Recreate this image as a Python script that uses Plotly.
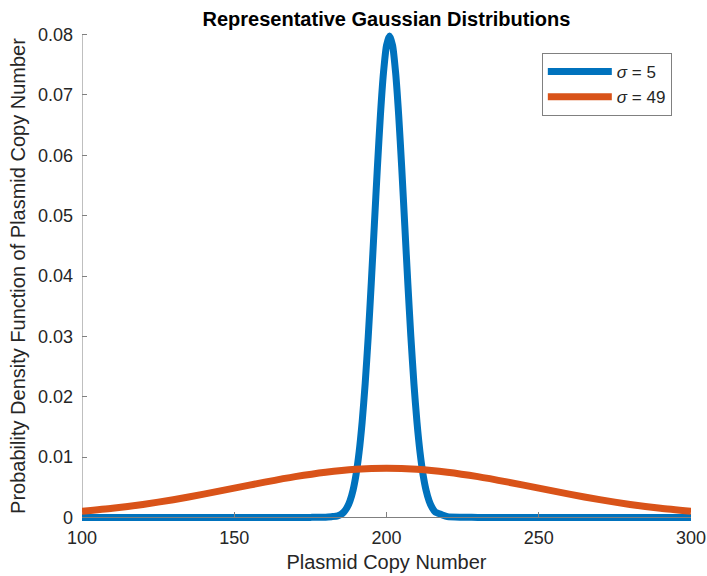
import plotly.graph_objects as go

# sigma = 5 curve
x_narrow = [100, 170, 175, 180, 182, 184, 185, 186, 187, 188, 189, 190, 191, 192, 193, 194, 195, 196, 197, 198, 199, 200,
            201, 202, 203, 204, 205, 206, 207, 208, 209, 210, 211, 212, 213, 214, 215, 216, 218, 220, 225, 230, 300]
y_narrow = [0.0, 0.0, 0.0, 0.00003, 0.00012, 0.00025, 0.00048, 0.00089, 0.00158, 0.00272, 0.00448, 0.00709,
            0.0108, 0.01579, 0.02218, 0.02995, 0.03884, 0.04839, 0.05794, 0.06665, 0.07365, 0.07821, 0.07979,
            0.07821, 0.07365, 0.06665, 0.05794, 0.04839, 0.03884, 0.02995, 0.02218, 0.01579, 0.0108,
            0.00709, 0.00448, 0.00272, 0.00158, 0.00089, 0.00048, 0.00012, 0.00003, 0.0, 0.0]

# sigma = 49 curve
x_wide = [100, 110, 120, 130, 140, 150, 160, 170, 180, 190, 200, 210, 220, 230, 240, 250, 260, 270, 280, 290, 300]
y_wide = [0.001015, 0.001507, 0.002147, 0.002934, 0.003847, 0.004838, 0.005835, 0.006751, 0.007491, 0.007974,
          0.008142, 0.007974, 0.007491, 0.006751, 0.005835, 0.004838, 0.003847, 0.002934, 0.002147, 0.001507, 0.001015]

names = ["<i>σ</i> = 5", "<i>σ</i> = 49"]
colors = ["#0072BD", "#D95319"]

title = "<b>Representative Gaussian Distributions</b>"
xlabel = "Plasmid Copy Number"
ylabel = "Probability Density Function of Plasmid Copy Number"
xticks = [100, 150, 200, 250, 300]
yticks = [0, 0.01, 0.02, 0.03, 0.04, 0.05, 0.06, 0.07, 0.08]

ymin, ymax = -0.0006, 0.0806

fig = go.Figure()
fig.add_trace(go.Scatter(x=x_narrow, y=y_narrow, mode="lines", name=names[0],
                         line=dict(color=colors[0], width=7, shape="spline", smoothing=0.6)))
fig.add_trace(go.Scatter(x=x_wide, y=y_wide, mode="lines", name=names[1],
                         line=dict(color=colors[1], width=7, shape="spline", smoothing=0.6)))

axis_gray = "#808080"
fig.update_layout(
    width=707, height=576,
    margin=dict(l=82, r=16, t=31, b=55, autoexpand=False),
    paper_bgcolor="white", plot_bgcolor="white",
    font=dict(family="Liberation Sans, Arial, sans-serif", size=18, color="#262626"),
    title=dict(text=title, x=(82 + 691) / 2 / 707, xanchor="center", y=1 - 19 / 576, yanchor="middle",
               font=dict(size=20, color="black")),
    showlegend=True,
    legend=dict(x=0.9685, xanchor="right", y=0.955, yanchor="top",
                bgcolor="white", bordercolor=axis_gray, borderwidth=1, itemwidth=64,
                font=dict(size=17, color="#262626"), tracegroupgap=0),
    xaxis=dict(range=[100, 300], tickvals=xticks, showgrid=False, zeroline=False,
               showline=True, linecolor=axis_gray, linewidth=1, automargin=False,
               ticks="inside", ticklen=5, tickcolor=axis_gray, ticklabelstandoff=4,
               ticklabeloverflow="allow",
               anchor="free", position=(0 - ymin) / (ymax - ymin),
               title=dict(text=xlabel, font=dict(size=20), standoff=8)),
    yaxis=dict(range=[ymin, ymax], tickvals=yticks, showgrid=False, zeroline=False,
               showline=False, automargin=False,
               ticks="inside", ticklen=5, tickcolor=axis_gray, ticklabelstandoff=8,
               title=dict(text=ylabel, font=dict(size=20), standoff=6)),
)

# y axis line from 0 to 0.08 at x=100
fig.add_shape(type="line", xref="x", yref="y", x0=100, x1=100, y0=0, y1=0.08,
              line=dict(color=axis_gray, width=1), layer="below")

fig.write_html("out.html")
